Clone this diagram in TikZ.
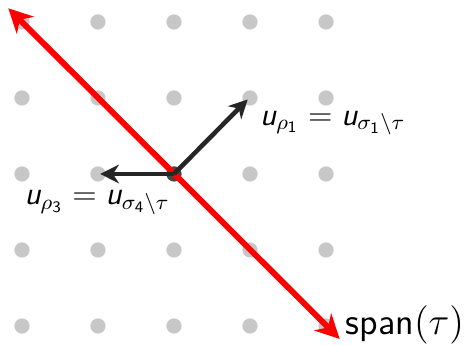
\documentclass[tikz,border=0pt]{standalone}
\usepackage{amsmath,amssymb}
\usetikzlibrary{arrows.meta}
\newcommand{\su}{\textsf{\itshape u}}
\newcommand{\sd}[1]{\mathsf{#1}}

\begin{document}
\begin{tikzpicture}[font=\large, every node/.style={inner sep=1pt}]
\useasboundingbox (-2.289,-2.25) rectangle (3.868,2.289);
% --- lattice points ---
\foreach \x in {-2,...,2}
  \foreach \y in {-2,...,2}
    \fill[black!22] (\x,\y) circle (0.1);
\fill[black!72] (0,0) circle (0.1);
% --- span of tau ---
\coordinate (o) at (0,0);
\coordinate (sa) at (-2.18,2.18);
\coordinate (sb) at (2.18,-2.17);
\draw[red, line width=2.2pt, {Stealth[length=9pt,width=9pt]}-{Stealth[length=9pt,width=9pt]}] (sa) -- (sb);
% --- rays ---
\coordinate (r1) at (0.97,0.98);
\coordinate (r3) at (-0.97,0);
\draw[black!85, line width=1.7pt, -{Stealth[length=7pt,width=7pt]}] (o) -- (r1);
\draw[black!85, line width=1.7pt, -{Stealth[length=7pt,width=7pt]}] (o) -- (r3);
\node (l1) at (2.09,0.67) {$\su_{\rho_{\sd{1}}} = \su_{\sigma_{\sd{1}}\setminus\tau}$};
\node (l3) at (-1.01,-0.38) {$\su_{\rho_{\sd{3}}} = \su_{\sigma_{\sd{4}}\setminus\tau}$};
\node[anchor=west, font=\fontsize{13.8}{16}\selectfont] (sp) at (2.22,-1.99) {\textsf{span}$(\tau)$};
\end{tikzpicture}
\end{document}
